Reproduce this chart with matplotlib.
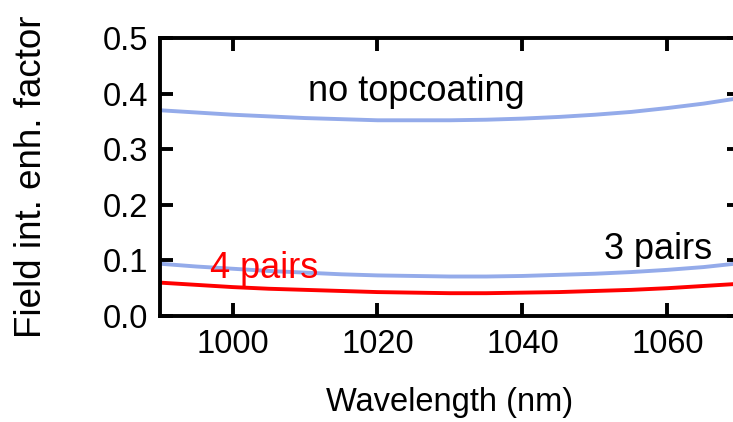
import matplotlib
matplotlib.use("Agg")
import matplotlib.pyplot as plt
import numpy as np

plt.rcParams['font.family'] = ['Liberation Sans', 'DejaVu Sans']

# ----Datos----
wl = [990, 995, 1000, 1005, 1010, 1015, 1020, 1025, 1030, 1035, 1040, 1045, 1050, 1055, 1060, 1065, 1070]
sin_capa = [0.370, 0.366, 0.362, 0.359, 0.356, 0.354, 0.352, 0.352, 0.352, 0.353, 0.355, 0.358, 0.362, 0.367, 0.374, 0.382, 0.392]
pares3 = [0.094, 0.089, 0.085, 0.081, 0.078, 0.075, 0.073, 0.072, 0.071, 0.071, 0.072, 0.074, 0.076, 0.079, 0.083, 0.088, 0.095]
pares4 = [0.060, 0.056, 0.052, 0.049, 0.047, 0.045, 0.043, 0.042, 0.041, 0.041, 0.042, 0.043, 0.045, 0.047, 0.050, 0.054, 0.058]
xticks = [1000, 1020, 1040, 1060]
yticks = [0.0, 0.1, 0.2, 0.3, 0.4, 0.5]

azul = "#94abea"
fs_tick = 23.5   # números de los ejes
fs_txt = 26      # etiquetas dentro de la gráfica

fig = plt.figure(figsize=(7.33, 4.22), dpi=100)
ax = fig.add_axes([0.2183, 0.2512, 0.7912, 0.6588])

ax.plot(wl, sin_capa, color=azul, lw=2.8)
ax.plot(wl, pares3, color=azul, lw=2.8)
ax.plot(wl, pares4, color="red", lw=2.8)

ax.text(1025.4, 0.403, "no topcoating", fontsize=fs_txt, ha="center", va="center")
ax.text(1058.7, 0.119, "3 pairs", fontsize=fs_txt, ha="center", va="center")
ax.text(1004.3, 0.086, "4 pairs", fontsize=fs_txt, ha="center", va="center", color="red")

ax.set_xlim(990, 1070)
ax.set_ylim(0, 0.5)
ax.set_xticks(xticks)
ax.set_yticks(yticks)
ax.set_yticklabels([f"{v:.1f}" for v in yticks])
ax.tick_params(direction="in", length=9.4, width=2.8, labelsize=fs_tick,
               top=True, right=True)
ax.tick_params(axis="y", pad=8.5)
ax.tick_params(axis="x", pad=9.5)
for s in ax.spines.values():
    s.set_linewidth(2.8)

ax.set_xlabel("Wavelength (nm)", fontsize=23.5, labelpad=19)
ax.set_ylabel("Field int. enh. factor", fontsize=26.5, labelpad=39)

fig.savefig("out.png", dpi=100)
